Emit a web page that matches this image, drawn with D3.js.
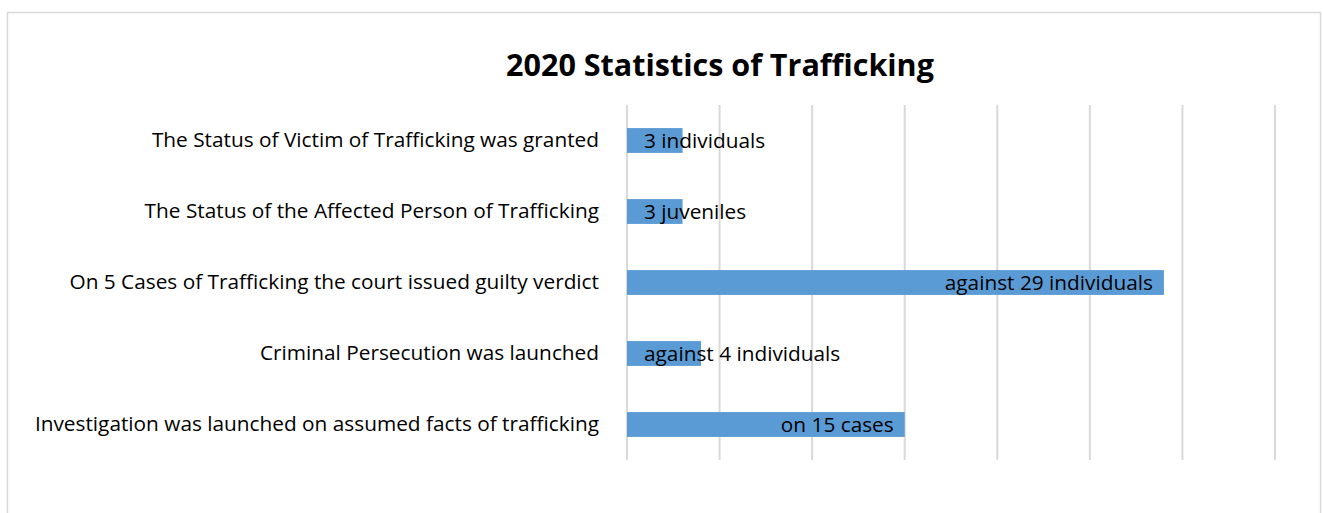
<!doctype html>
<html lang="en">
<head>
<meta charset="utf-8">
<style>
    body { margin: 0; background: #fff; }
    text { font-family: "Open Sans", sans-serif; fill: #000; }
</style>
</head>
<body>
<div class="chart"></div>

<script src="https://cdn.jsdelivr.net/npm/d3@7"></script>
<script>

    // data
    let categories = [
        'The Status of Victim of Trafficking was granted',
        'The Status of the Affected Person of Trafficking',
        'On 5 Cases of Trafficking the court issued guilty verdict',
        'Criminal Persecution was launched',
        'Investigation was launched on assumed facts of trafficking'
    ];
    let values = [3, 3, 29, 4, 15];
    let valueLabels = ['3 individuals', '3 juveniles', 'against 29 individuals', 'against 4 individuals', 'on 15 cases'];
    let xTicks = [0, 5, 10, 15, 20, 25, 30, 35];

    let width = 1323;
    let height = 513;
    let margin = {top: 105, right: 48, bottom: 53, left: 627};
    let fontSize = 20.8;

    let svg = d3.select('.chart').append('svg')
        .attr('width', width)
        .attr('height', height);

    // chart frame
    svg.append('rect')
        .attr('x', 7.5).attr('y', 12.5)
        .attr('width', 1313).attr('height', 520)
        .attr('fill', 'none')
        .attr('stroke', '#d9d9d9')
        .attr('stroke-width', 1.5);

    svg.append('text')
        .attr('x', 720).attr('y', 76)
        .attr('text-anchor', 'middle')
        .style('font-size', '30.5px')
        .style('font-weight', 'bold')
        .text('2020 Statistics of Trafficking');

    let x = d3.scaleLinear()
        .domain([0, 35])
        .range([margin.left, width - margin.right]);

    let y = d3.scaleBand()
        .domain(categories)
        .range([margin.top, height - margin.bottom])
        .paddingInner(0.65)
        .paddingOuter(0.325);

    // vertical gridlines
    svg.append('g').attr('class', 'grid')
        .selectAll('line')
        .data(xTicks)
        .join('line')
        .attr('x1', d => x(d)).attr('x2', d => x(d))
        .attr('y1', margin.top).attr('y2', height - margin.bottom)
        .attr('stroke', '#d9d9d9')
        .attr('stroke-width', 2);

    // category labels
    let yAxis = svg.append('g')
        .attr('transform', `translate(${margin.left - 28},0)`)
        .call(d3.axisLeft(y).tickSize(0).tickPadding(0));
    yAxis.select('.domain').remove();
    yAxis.selectAll('text')
        .style('font-family', '"Open Sans", sans-serif')
        .style('font-size', fontSize + 'px')
        .attr('fill', '#000');

    // bars
    svg.append('g').attr('class', 'bars')
        .selectAll('rect')
        .data(values)
        .join('rect')
        .attr('x', x(0))
        .attr('y', (d, i) => y(categories[i]))
        .attr('width', d => x(d) - x(0))
        .attr('height', y.bandwidth())
        .attr('fill', '#5b9bd5');

    // value labels, inside end, pushed right when they don't fit
    svg.append('g').attr('class', 'labels')
        .selectAll('text')
        .data(values)
        .join('text')
        .attr('y', (d, i) => y(categories[i]) + y.bandwidth() / 2)
        .attr('dy', '0.35em')
        .style('font-size', fontSize + 'px')
        .text((d, i) => valueLabels[i])
        .attr('x', function (d) {
            let w = this.getComputedTextLength();
            return Math.max(x(d) - 11 - w, x(0) + 17);
        });

</script>
</body>
</html>
